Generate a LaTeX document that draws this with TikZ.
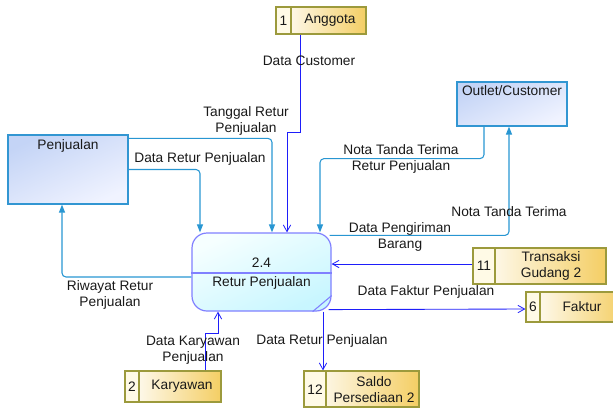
\documentclass[tikz,border=0pt]{standalone}
\usepackage{fontspec}
\setmainfont{Liberation Sans}
\usetikzlibrary{calc,arrows.meta}

\definecolor{flowcyan}{RGB}{40,150,210}
\definecolor{flowblue}{RGB}{30,30,250}
\definecolor{entline}{RGB}{50,150,210}
\definecolor{entdark}{RGB}{196,212,246}
\definecolor{entlight}{RGB}{240,243,255}
\definecolor{procline}{RGB}{128,128,255}
\definecolor{proclight}{RGB}{246,255,255}
\definecolor{procdark}{RGB}{200,246,255}
\definecolor{storeline}{RGB}{156,154,60}
\definecolor{storegold}{RGB}{244,206,100}
\definecolor{storecream}{RGB}{255,250,230}

\tikzset{
  txt/.style={font=\fontsize{10.3pt}{12pt}\selectfont, align=center, inner sep=0pt, text=black!90},
  entity/.style={draw=entline, line width=0.9pt, top color=entdark, bottom color=entlight, shading angle=25, inner sep=0pt},
  procbox/.style={draw=procline, line width=0.9pt, rounded corners=11.25pt, top color=proclight, bottom color=procdark, shading angle=25, inner sep=0pt},
  store/.style={draw=storeline, line width=0.9pt, left color=white, right color=storegold, inner sep=0pt,
    path picture={
      \fill[storecream] (path picture bounding box.north west) rectangle ([xshift=#1]path picture bounding box.south west);
      \draw[storeline, line width=0.9pt] ([xshift=#1]path picture bounding box.north west) -- ([xshift=#1]path picture bounding box.south west);
    }},
  flowc/.style={draw=flowcyan, line width=0.8pt, rounded corners=3pt, -{Triangle[length=6pt,width=4.5pt]}},
  flowb/.style={draw=flowblue, line width=0.65pt, -{Straight Barb[length=5pt,width=5.5pt,line width=0.6pt]}}
}

\begin{document}
\begin{tikzpicture}[x=0.75pt,y=-0.75pt]
\useasboundingbox (0,0) rectangle (613,408);

% external entities
\node[entity, minimum width=90pt, minimum height=51.75pt] (penj) at (68,169.5) {};
\node[txt] (penjt) at (68,146) {Penjualan};
\node[entity, minimum width=82.5pt, minimum height=33pt] (outlet) at (512,104) {};
\node[txt] (outlett) at (512,91) {Outlet/Customer};

% process 2.4
\node[procbox, minimum width=104.25pt, minimum height=58.5pt] (proc) at (261.5,272) {};
\draw[procline, line width=0.9pt] ($(proc.west)+(0,1)$) -- ($(proc.east)+(0,1)$);
\draw[procline, line width=0.8pt] ($(proc.south east)+(0,-16)$) -- ($(proc.south east)+(-19,0)$);
\node[txt] (procid) at (261.5,263) {2.4};
\node[txt] (procname) at (261.5,283) {Retur Penjualan};

% data stores
\node[store=11.25pt, minimum width=67.5pt, minimum height=20.25pt] (ang) at (321,20.5) {};
\node[txt] (angn) at (283.5,20.5) {1};
\node[txt] (angt) at (330,20.5) {Anggota};

\node[store=16.5pt, minimum width=99.75pt, minimum height=27pt] (trans) at (539.5,266) {};
\node[txt] (transn) at (484,266) {11};
\node[txt] (transt) at (551,266) {Transaksi\\Gudang 2};

\node[store=10.5pt, minimum width=73.5pt, minimum height=22.5pt] (fak) at (575,307) {};
\node[txt] (fakn) at (533,307) {6};
\node[txt] (fakt) at (582,307) {Faktur};

\node[store=16.5pt, minimum width=86.25pt, minimum height=27pt] (saldo) at (361.5,389) {};
\node[txt] (saldon) at (315,390) {12};
\node[txt] (saldot) at (374,390) {Saldo\\Persediaan 2};

\node[store=10.5pt, minimum width=72pt, minimum height=23.25pt] (kar) at (173,386.5) {};
\node[txt] (karn) at (132,386.5) {2};
\node[txt] (kart) at (182,386.5) {Karyawan};

% data flows
\draw[flowb] ($(ang.south)+(-21,0)$) -- ++(0,98) -| ($(proc.north)+(25.5,0)$);
\draw[flowc] ($(penj.north east)+(0,4)$) -| ($(proc.north)+(10.5,0)$);
\draw[flowc] (penj.east) -| ($(proc.north)+(-61.5,0)$);
\draw[flowc] ($(proc.west)+(0,5)$) -| ($(penj.south)+(-6,0)$);
\draw[flowc] ($(outlet.south)+(-28,0)$) -- ++(0,32) -| ($(proc.north)+(58.5,0)$);
\draw[flowc] ($(proc.north east)+(-2,3)$) -| ($(outlet.south)+(-3,0)$);
\draw[flowb] ($(trans.west)+(0,-2)$) -- ($(proc.east)+(0,-8)$);
\draw[flowb] ($(proc.south east)+(-3,-2)$) -- ($(fak.west)+(0,2)$);
\draw[flowb] ($(proc.south)+(61.5,0)$) -- ($(saldo.north)+(-38.5,0)$);
\draw[flowb] ($(kar.north)+(32,0)$) -- ++(0,-37) -| ($(proc.south)+(-43.5,0)$);

% flow labels
\node[txt] (l1) at (309,61) {Data Customer};
\node[txt] (l2) at (246,121) {Tanggal Retur\\Penjualan};
\node[txt] (l3) at (200,159) {Data Retur Penjualan};
\node[txt] (l4) at (401,159) {Nota Tanda Terima\\Retur Penjualan};
\node[txt] (l5) at (509,212) {Nota Tanda Terima};
\node[txt] (l6) at (400,237) {Data Pengiriman\\Barang};
\node[txt] (l7) at (110,294.5) {Riwayat Retur\\Penjualan};
\node[txt] (l8) at (426,292) {Data Faktur Penjualan};
\node[txt] (l9) at (193,350.5) {Data Karyawan\\Penjualan};
\node[txt] (l10) at (322,341) {Data Retur Penjualan};
\end{tikzpicture}
\end{document}
